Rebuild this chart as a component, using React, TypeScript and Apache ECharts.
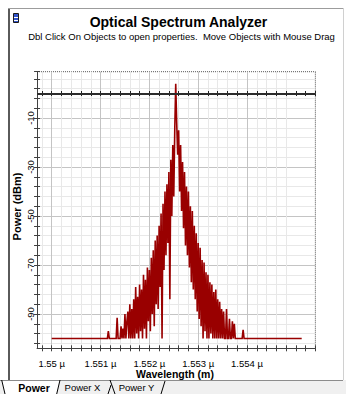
import React, { useEffect, useRef } from 'react';
import * as echarts from 'echarts';

// ---------------- data ----------------
const wavelengthStartNm = 1551.1;
const wavelengthStepNm = 0.02;
const powerDbm = [
  -100, -100, -100, -97, -100, -100, -100, -100, -100, -100,
  -100, -100, -91.5, -100, -100, -100, -95, -100, -96, -100,
  -90, -100, -93, -89, -100, -86, -100, -88, -100, -84,
  -100, -79, -98, -83, -100, -78, -97, -80, -100, -74,
  -96, -76, -100, -71, -93, -72, -97, -67, -90, -64,
  -95, -60, -86, -58, -88, -54, -79, -49, -100, -45,
  -72, -40, -66, -37, -61, -32, -84, -27, -50, -21,
  -42, -15, 4, -12, -25, -15, -40, -21, -48, -28,
  -55, -32, -62, -38, -66, -40, -71, -46, -77, -48,
  -80, -54, -84, -57, -89, -61, -92, -63, -95, -68,
  -100, -69, -97, -73, -100, -74, -100, -77, -98, -78,
  -100, -81, -100, -80, -100, -84, -100, -85, -100, -88,
  -100, -89, -100, -100, -88, -100, -100, -92, -100, -100,
  -93, -100, -94, -100, -100, -100, -100, -100, -100, -100,
  -100, -96.5, -100, -100,
];
const floorWavelengthsNm = [1550.0, 1555.12];
const floorPowerDbm = -100;
const referenceLevelDbm = 0;
const xLabelValuesNm = [1550, 1551, 1552, 1553, 1554];
const yLabelValuesDbm = [-10, -30, -50, -70, -90];
const tabNames = ['Power', 'Power X', 'Power Y'];
const titleText = 'Optical Spectrum Analyzer';
const subtitleText = 'Dbl Click On Objects to open properties.  Move Objects with Mouse Drag';
const xAxisName = 'Wavelength (m)';
const yAxisName = 'Power (dBm)';

// ---------------- layout constants ----------------
const W = 346;
const H = 394;
const PX_PER_NM = 48.83;
const PX_PER_DB = 2.45;
const X_ANCHOR_NM = 1550;
const X_ANCHOR_PX = 51.7;
const Y_ANCHOR_DB = -10;
const Y_ANCHOR_PX = 118;
const PLOT_TOP = 71.7;
const xPx = (nm: number) => X_ANCHOR_PX + (nm - X_ANCHOR_NM) * PX_PER_NM;
const yPx = (db: number) => Y_ANCHOR_PX - (db - Y_ANCHOR_DB) * PX_PER_DB;

const X_MIN0 = 1549.7;
const X_MIN1 = 1549.8;
const X_MAX = 1555.4;
const Y_MIN0 = -104;
const Y_MIN1 = -102;
const Y_MAX = Y_ANCHOR_DB + (Y_ANCHOR_PX - PLOT_TOP) / PX_PER_DB;

const MAJOR = '#c4c4c4';
const MINOR = '#e8e8e8';
const NONE = 'rgba(0,0,0,0)';
const AXIS = '#404040';
const FONT = 'Liberation Sans';

export default function App() {
  const ref = useRef<HTMLDivElement>(null);

  useEffect(() => {
    const el = ref.current;
    if (!el) return;
    const chart = echarts.init(el, undefined, { renderer: 'svg', width: W, height: H });

    const data: number[][] = [[floorWavelengthsNm[0], floorPowerDbm]];
    powerDbm.forEach((p, i) => {
      data.push([+(wavelengthStartNm + i * wavelengthStepNm).toFixed(3), p]);
    });
    data.push([floorWavelengthsNm[1], floorPowerDbm]);

    // split line colours, one per tick counted from min
    const xColors: string[] = [];
    for (let k = 0; k < 64; k++) {
      const tenth = Math.round(X_MIN0 * 10) + k;
      if (tenth % 2 === 0 && tenth >= 15498 && tenth <= 15548) xColors.push(tenth % 10 === 0 ? MAJOR : MINOR);
      else xColors.push(NONE);
    }
    const yColors: string[] = [];
    for (let k = 0; k < 64; k++) {
      const v = Y_MIN0 + 2 * k;
      if (v <= 6 && ((v % 4) + 4) % 4 === 2) yColors.push((v + 10) % 20 === 0 ? MAJOR : MINOR);
      else yColors.push(NONE);
    }

    const g0 = {
      left: xPx(X_MIN0),
      right: W - xPx(X_MAX),
      top: PLOT_TOP,
      bottom: H - yPx(Y_MIN0),
      outerBoundsMode: 'none',
      containLabel: false,
    };
    const g1 = {
      left: xPx(X_MIN1),
      right: W - xPx(X_MAX),
      top: PLOT_TOP,
      bottom: H - yPx(Y_MIN1),
      outerBoundsMode: 'none',
      containLabel: false,
    };
    const xOff = yPx(Y_MIN0) - yPx(Y_MIN1);
    const yOff = xPx(X_MIN1) - xPx(X_MIN0);

    const tickAxisX = (inside: boolean, onZero: boolean, offset: number) => ({
      type: 'value', gridIndex: 1, min: X_MIN1, max: X_MAX, interval: 0.2, position: 'bottom',
      offset,
      axisLine: { show: false, onZero },
      axisTick: { show: true, inside, length: onZero ? 2.5 : 3, lineStyle: { color: onZero ? '#222' : AXIS, width: 1 } },
      axisLabel: { show: false }, splitLine: { show: false },
    });
    const tickAxisY = (inside: boolean) => ({
      type: 'value', gridIndex: 1, min: Y_MIN1, max: Y_MAX, interval: 4, position: 'left',
      offset: yOff,
      axisLine: { show: false, onZero: false },
      axisTick: { show: true, inside, length: 3, lineStyle: { color: AXIS, width: 1 } },
      axisLabel: { show: false }, splitLine: { show: false },
    });

    const frameX0 = xPx(X_MIN0);
    const frameX1 = xPx(X_MAX);
    const frameY1 = yPx(Y_MIN0);

    const option: any = {
      animation: false,
      backgroundColor: '#ffffff',
      grid: [g0, g1],
      xAxis: [
        {
          type: 'value', gridIndex: 0, min: X_MIN0, max: X_MAX, interval: 0.1, position: 'bottom',
          axisLine: { show: true, onZero: false, lineStyle: { color: AXIS, width: 1 } },
          axisTick: { show: false },
          axisLabel: {
            show: true, margin: 10, fontSize: 9.5, fontFamily: FONT, color: '#000',
            formatter: (v: number) => {
              const nm = Math.round(v * 10) / 10;
              return xLabelValuesNm.includes(nm) ? `${nm / 1000} µ` : '';
            },
          },
          splitLine: { show: true, lineStyle: { color: xColors, width: 1 } },
        },
        tickAxisX(false, false, xOff),
        tickAxisX(true, false, xOff),
        tickAxisX(false, true, 0),
        tickAxisX(true, true, 0),
      ],
      yAxis: [
        {
          type: 'value', gridIndex: 0, min: Y_MIN0, max: Y_MAX, interval: 2, position: 'left',
          axisLine: { show: true, onZero: false, lineStyle: { color: AXIS, width: 1 } },
          axisTick: { show: false },
          axisLabel: {
            show: true, rotate: 90, margin: 2, fontSize: 9.5, fontFamily: FONT, color: '#000',
            formatter: (v: number) => {
              const r = Math.round(v);
              return Math.abs(v - r) < 1e-6 && yLabelValuesDbm.includes(r) ? String(r) : '';
            },
          },
          splitLine: { show: true, lineStyle: { color: yColors, width: 1 } },
        },
        tickAxisY(false),
        tickAxisY(true),
      ],
      series: [
        {
          type: 'line', xAxisIndex: 0, yAxisIndex: 0, data,
          symbol: 'none', showSymbol: false, clip: true, z: 3,
          lineStyle: { color: '#990000', width: 1.6, join: 'miter', miterLimit: 2 },
          itemStyle: { color: '#990000' },
          markLine: {
            silent: true, symbol: 'none', animation: false,
            label: { show: false },
            lineStyle: { color: '#2b2b2b', width: 2, type: 'solid' },
            data: [{ yAxis: referenceLevelDbm }],
          },
        },
      ],
      graphic: {
        elements: [
          // window frame
          { type: 'rect', silent: true, shape: { x: 0, y: 380, width: W, height: H - 380 }, style: { fill: '#f0f0f0' } },
          { type: 'polygon', silent: true, shape: { points: [[1.7, 380], [5, 394], [56.7, 394], [60, 380]] }, style: { fill: '#ffffff' } },
          { type: 'line', silent: true, shape: { x1: 0, y1: 380.5, x2: 343, y2: 380.5 }, style: { stroke: '#8c8c8c', lineWidth: 1 } },
          { type: 'rect', silent: true, shape: { x: 8, y: 8, width: 2, height: 372 }, style: { fill: '#5a5a5a' } },
          { type: 'line', silent: true, shape: { x1: 8, y1: 8.5, x2: 344, y2: 8.5 }, style: { stroke: '#9c9c9c', lineWidth: 1 } },
          { type: 'line', silent: true, shape: { x1: 343.5, y1: 8, x2: 343.5, y2: 380 }, style: { stroke: '#d0d0d0', lineWidth: 1 } },
          // tabs
          { type: 'polyline', silent: true, shape: { points: [[1.7, 380], [5, 394]] }, style: { stroke: '#000', lineWidth: 1 } },
          { type: 'polyline', silent: true, shape: { points: [[56.7, 394], [60, 380]] }, style: { stroke: '#000', lineWidth: 1 } },
          { type: 'polyline', silent: true, shape: { points: [[108, 394], [111, 385]] }, style: { stroke: '#000', lineWidth: 1 } },
          { type: 'polyline', silent: true, shape: { points: [[110, 380], [115, 394]] }, style: { stroke: '#000', lineWidth: 1 } },
          { type: 'polyline', silent: true, shape: { points: [[161, 394], [165, 381]] }, style: { stroke: '#000', lineWidth: 1 } },
          { type: 'text', silent: true, x: 34, y: 387.5, style: { text: tabNames[0], fontFamily: FONT, fontSize: 10.5, fontWeight: 'bold', fill: '#000', align: 'center', verticalAlign: 'middle' } },
          { type: 'text', silent: true, x: 82.5, y: 387.5, style: { text: tabNames[1], fontFamily: FONT, fontSize: 9.5, fill: '#000', align: 'center', verticalAlign: 'middle' } },
          { type: 'text', silent: true, x: 136.5, y: 387.5, style: { text: tabNames[2], fontFamily: FONT, fontSize: 9.5, fill: '#000', align: 'center', verticalAlign: 'middle' } },
          // icon
          { type: 'rect', silent: true, shape: { x: 13.5, y: 13.5, width: 5, height: 9 }, style: { fill: '#3355cc', stroke: '#1a1a1a', lineWidth: 1 } },
          { type: 'line', silent: true, shape: { x1: 14, y1: 17.5, x2: 18, y2: 17.5 }, style: { stroke: '#ffffff', lineWidth: 1 } },
          { type: 'line', silent: true, shape: { x1: 14, y1: 20.5, x2: 18, y2: 20.5 }, style: { stroke: '#ffffff', lineWidth: 1 } },
          // titles
          { type: 'text', silent: true, x: 178.5, y: 22, style: { text: titleText, fontFamily: FONT, fontSize: 14, fontWeight: 'bold', fill: '#000', align: 'center', verticalAlign: 'middle' } },
          { type: 'text', silent: true, x: 181.5, y: 36.2, style: { text: subtitleText, fontFamily: FONT, fontSize: 9.5, fill: '#000', align: 'center', verticalAlign: 'middle' } },
          // axis names
          { type: 'text', silent: true, x: 175, y: 374, style: { text: xAxisName, fontFamily: FONT, fontSize: 10.5, fontWeight: 'bold', fill: '#000', align: 'center', verticalAlign: 'middle' } },
          { type: 'text', silent: true, x: 16.5, y: 206.5, rotation: Math.PI / 2, style: { text: yAxisName, fontFamily: FONT, fontSize: 11, fontWeight: 'bold', fill: '#000', align: 'center', verticalAlign: 'middle' } },
          // dotted plot border
          { type: 'line', silent: true, shape: { x1: frameX0, y1: PLOT_TOP, x2: frameX1, y2: PLOT_TOP }, style: { stroke: '#505050', lineWidth: 1, lineDash: [1, 1] } },
          { type: 'line', silent: true, shape: { x1: frameX1, y1: PLOT_TOP, x2: frameX1, y2: frameY1 }, style: { stroke: '#505050', lineWidth: 1, lineDash: [1, 1] } },
        ],
      },
    };

    chart.setOption(option);
    return () => chart.dispose();
  }, []);

  return <div ref={ref} style={{ position: 'absolute', left: 0, top: 0, width: W, height: H }} />;
}
